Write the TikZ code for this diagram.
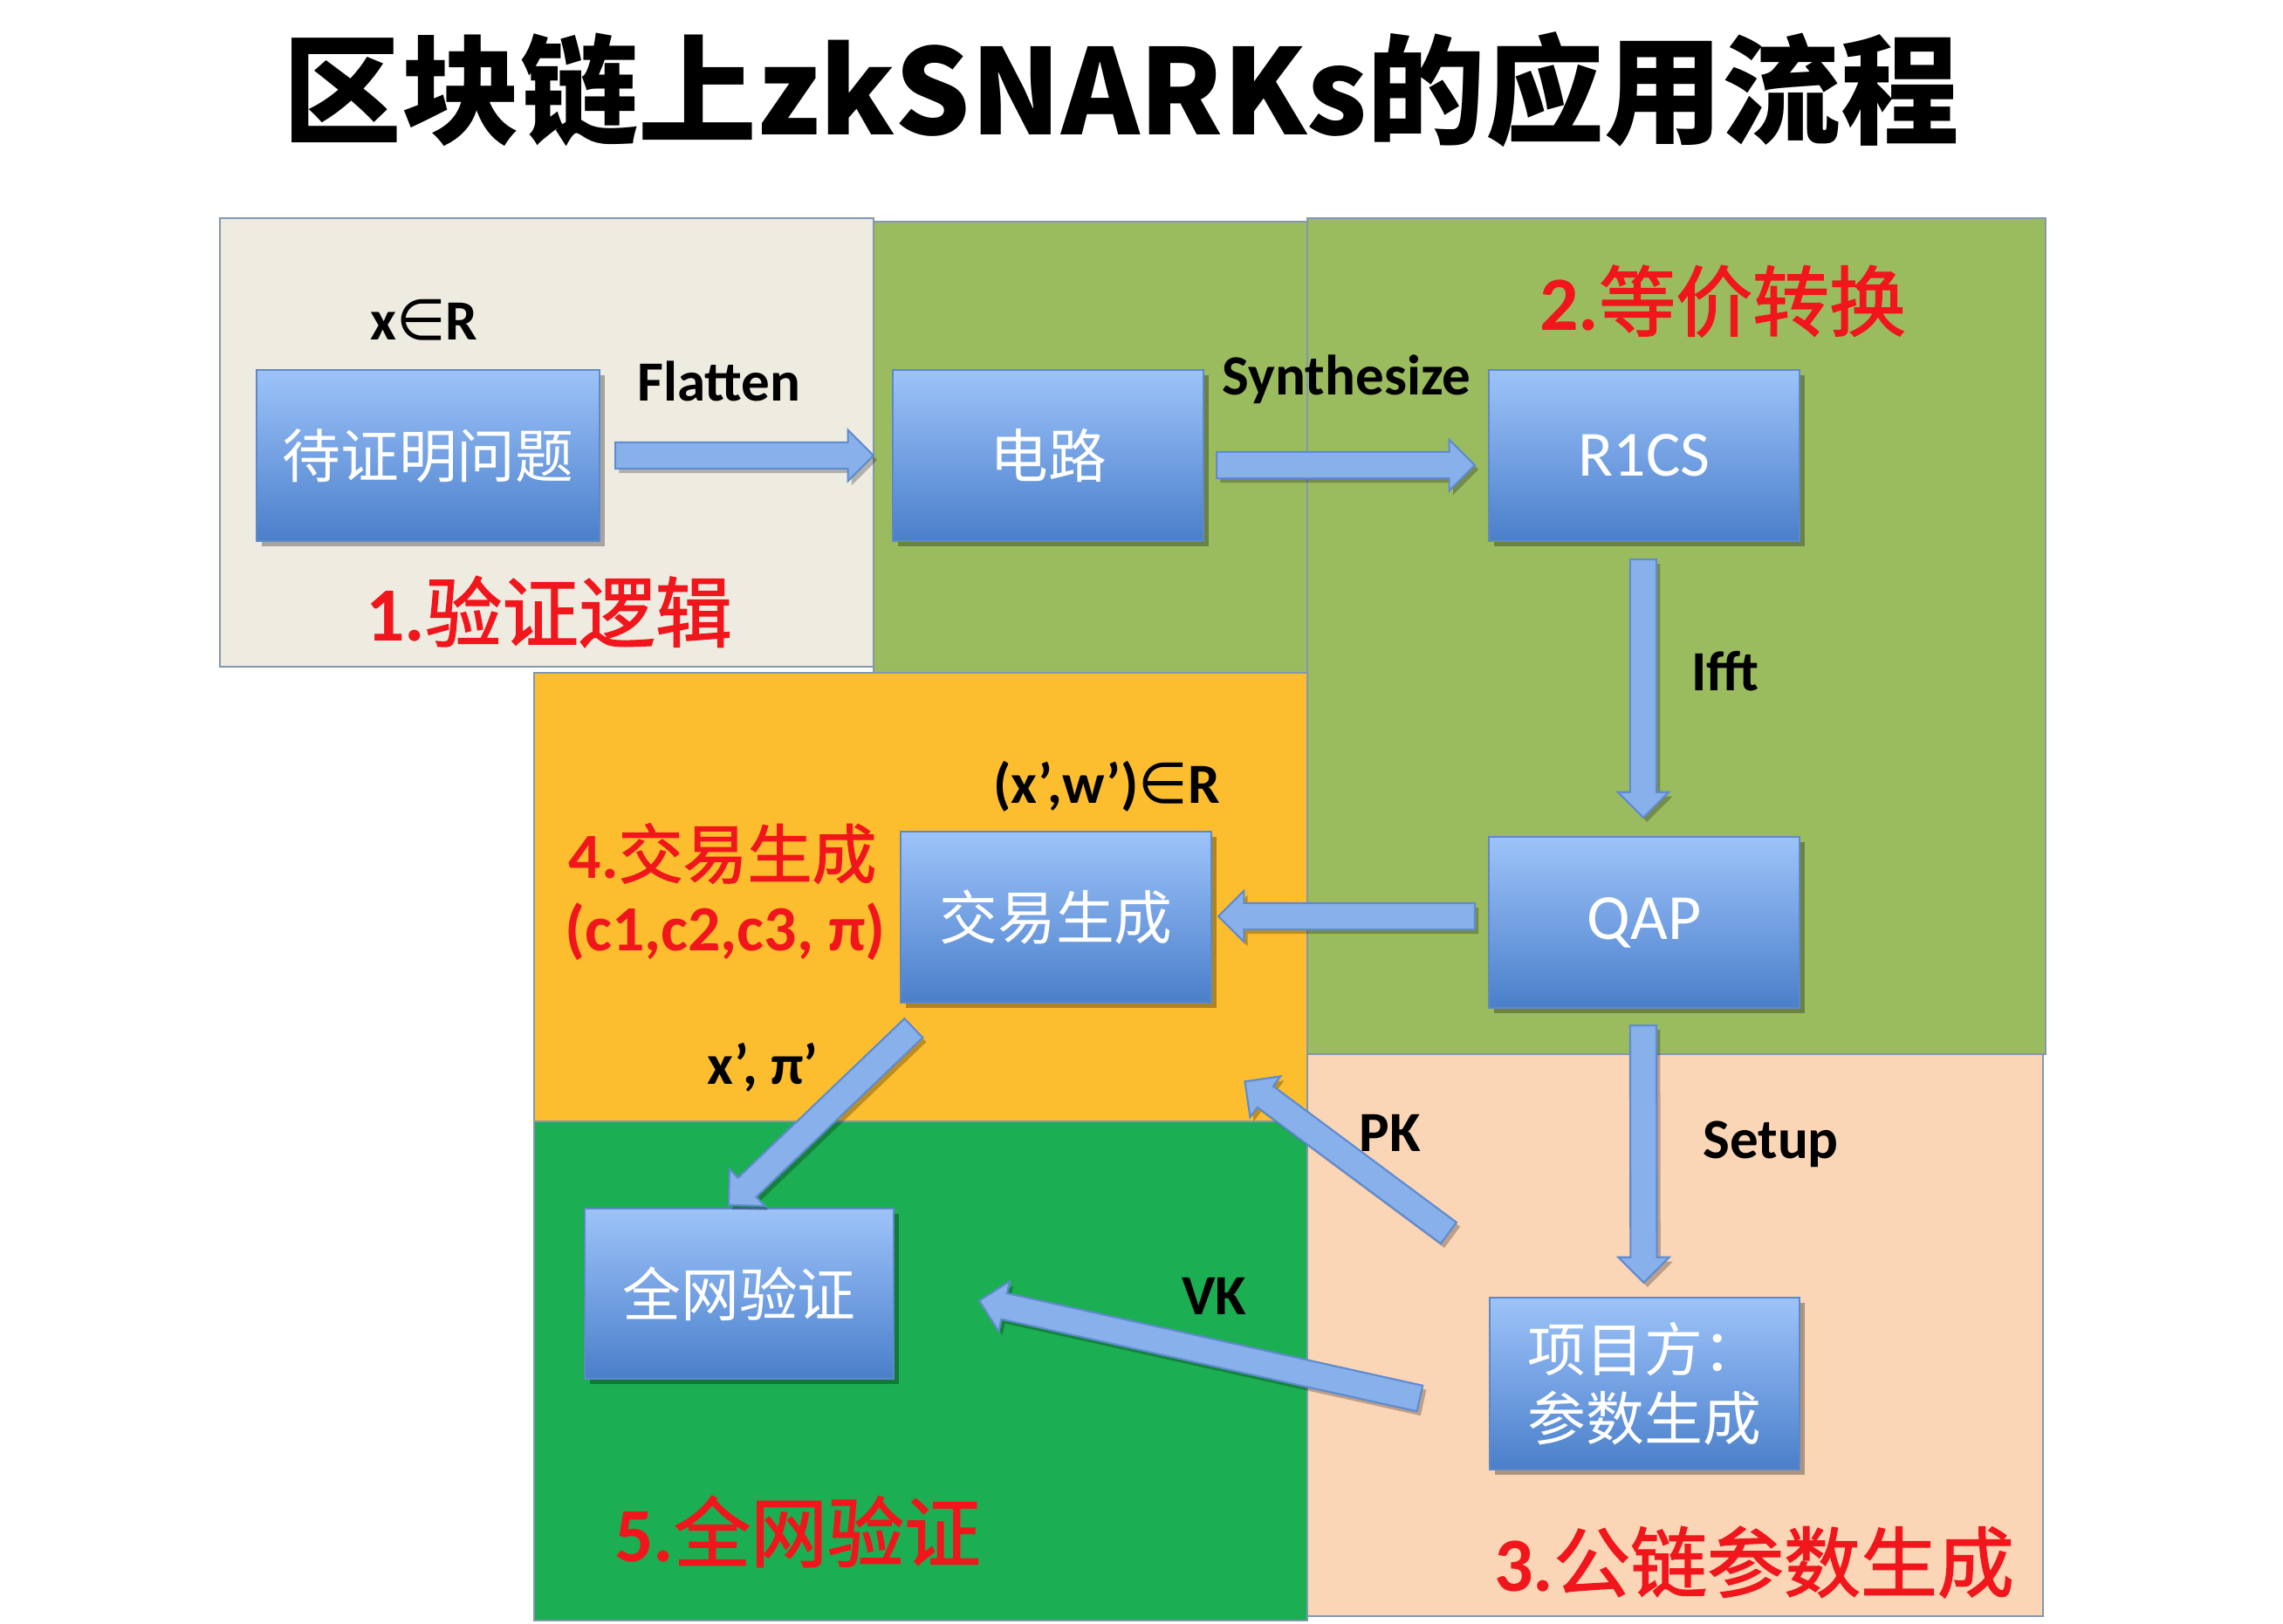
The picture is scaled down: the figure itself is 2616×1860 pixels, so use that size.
\documentclass[tikz,border=0pt]{standalone}
\usepackage{fontspec}
\usepackage{graphicx}
\setmainfont{Carlito}
\newfontfamily\cjk{Noto Sans CJK SC}
\newfontfamily\cjkred[FakeBold=1.6]{Noto Sans CJK SC}
\newfontfamily\sym{DejaVu Sans}
\usetikzlibrary{shadows,calc}
\definecolor{beige}{HTML}{EEEBE1}
\definecolor{olive}{HTML}{9BBB5F}
\definecolor{amber}{HTML}{FCBE2E}
\definecolor{dgreen}{HTML}{1CAE52}
\definecolor{peach}{HTML}{FAD5B6}
\definecolor{regborder}{HTML}{8497B0}
\definecolor{boxtop}{HTML}{9DC3F8}
\definecolor{boxmid}{HTML}{74A1E3}
\definecolor{boxbot}{HTML}{4A7FC9}
\definecolor{boxborder}{HTML}{5E89C8}
\definecolor{arrowfill}{HTML}{88B0EA}
\definecolor{arrowborder}{HTML}{5F8BD0}
\definecolor{labelred}{HTML}{F0161C}
\tikzset{
  region/.style={draw=regborder, line width=0.8pt},
  bluebox/.style={draw=boxborder, line width=0.6pt, top color=boxtop, bottom color=boxbot, middle color=boxmid,
    minimum width=3.56cm, minimum height=1.96cm, inner sep=0pt, text=white, align=center,
    font={\cjk\fontsize{19}{23}\selectfont},
    drop shadow={shadow xshift=1.6pt, shadow yshift=-1.8pt, opacity=0.3, fill=black}},
  lbl/.style={font={\bfseries\fontsize{18.5}{22}\selectfont}, text=black, inner sep=0pt},
  redlbl/.style={text=labelred, inner sep=0pt, font={\fontsize{25}{29}\selectfont}},
  arrowbody/.style={draw=arrowborder, line width=0.6pt, fill=arrowfill,
    drop shadow={shadow xshift=1.2pt, shadow yshift=-1.4pt, opacity=0.25, fill=black}},
}
% block arrow between two coordinates
\newcommand\blockarrow[2]{%
  \path (#1) coordinate (baS) (#2) coordinate (baE);
  \pgfpointdiff{\pgfpointanchor{baS}{center}}{\pgfpointanchor{baE}{center}}%
  \pgfgetlastxy{\baDX}{\baDY}%
  \pgfmathsetmacro\baAng{atan2(\baDY,\baDX)}%
  \pgfmathsetmacro\baLen{veclen(\baDX,\baDY)}%
  \begin{scope}[shift={(baS)}, rotate=\baAng]
    \draw[arrowbody] (0pt,-4.3pt) -- ({\baLen pt-8.3pt},-4.3pt) -- ({\baLen pt-8.3pt},-8.3pt)
      -- ({\baLen pt},0pt) -- ({\baLen pt-8.3pt},8.3pt) -- ({\baLen pt-8.3pt},4.3pt) -- (0pt,4.3pt) -- cycle;
  \end{scope}}
\begin{document}
\begin{tikzpicture}[x=0.01cm, y=-0.01cm]
\useasboundingbox (0,0) rectangle (2616,1860);
\fill[white] (0,0) rectangle (2616,1860);

% title
\node (title) at (1285,103) {\resizebox{546pt}{!}{\cjk\bfseries 区块链上zkSNARKs的应用流程}};

% regions
\filldraw[region, fill=olive] (1498,250) rectangle (2344,1208);
\filldraw[region, fill=olive] (1001,254) rectangle (1498,771);
\filldraw[region, fill=beige] (252,250) rectangle (1001,764);
\filldraw[region, fill=amber] (612,771) rectangle (1498,1285);
\filldraw[region, fill=dgreen] (612,1285) rectangle (1498,1857);
\filldraw[region, fill=peach] (1498,1208) rectangle (2341,1852);

% boxes
\node[bluebox, minimum width=3.93cm] (q) at (490.5,522) {待证明问题};
\node[bluebox] (c) at (1201,522) {电路};
\node[bluebox, font={\fontsize{21}{25}\selectfont}] (r) at (1884,522) {R1CS};
\node[bluebox, font={\fontsize{21}{25}\selectfont}] (a) at (1884,1057) {QAP};
\node[bluebox] (t) at (1210,1051) {交易生成};
\node[bluebox, minimum width=3.54cm, minimum height=1.95cm] (v) at (847,1482.5) {全网验证};
\node[bluebox, minimum width=3.55cm, minimum height=1.97cm, font={\cjk\fontsize{19}{22.5}\selectfont}] (p) at (1884.5,1585.5) {项目方：\\参数生成};

% arrows
\blockarrow{$(q.east)+(17,0)$}{$(c.west)+(-21,0)$}
\blockarrow{$(c.east)+(14,11)$}{$(r.west)+(-15,11)$}
\blockarrow{$(r.south)+(-1,20)$}{$(a.north)+(-1,-21)$}
\blockarrow{$(a.west)+(-15,-7)$}{$(t.east)+(7,-1)$}
\blockarrow{$(a.south)+(-1,19)$}{$(p.north)+(-1,-16)$}
\blockarrow{$(p.north west)+(-46,-73)$}{$(t.south east)+(37,89)$}
\blockarrow{$(p.west)+(-79,17)$}{$(v.east)+(97,8)$}
\blockarrow{$(t.south west)+(16,28)$}{$(v.north)+(-12,-3)$}

% black labels
\node[lbl] (lx) at (486,367) {x{\sym\mdseries ∈}R};
\node[lbl] (lflat) at (824,437) {Flatten};
\node[lbl] (lsyn) at (1543,435) {Synthesize};
\node[lbl] (lifft) at (1977,769) {Ifft};
\node[lbl] (lxw) at (1268,901) {(x’,w’){\sym\mdseries ∈}R};
\node[lbl] (lxp) at (874,1223) {x’, π’};
\node[lbl] (lpk) at (1593,1298) {PK};
\node[lbl] (lsetup) at (2029,1311) {Setup};
\node[lbl] (lvk) at (1391,1485) {VK};

% red labels
\node[redlbl] (r1) at (629,701) {\textbf{1.}{\cjkred 验证逻辑}};
\node[redlbl] (r2) at (1974,345) {\textbf{2.}{\cjkred 等价转换}};
\node[redlbl, font={\fontsize{21}{25}\selectfont}] (r4) at (828,978) {\textbf{4.}{\cjkred 交易生成}};
\node[redlbl, font={\bfseries\fontsize{21}{25}\selectfont}] (r4b) at (831,1068) {(c1,c2,c3, π)};
\node[redlbl] (r5) at (914,1755) {\textbf{5.}{\cjkred 全网验证}};
\node[redlbl] (r3) at (2010,1790) {\textbf{3.}{\cjkred 公链参数生成}};
\end{tikzpicture}
\end{document}
